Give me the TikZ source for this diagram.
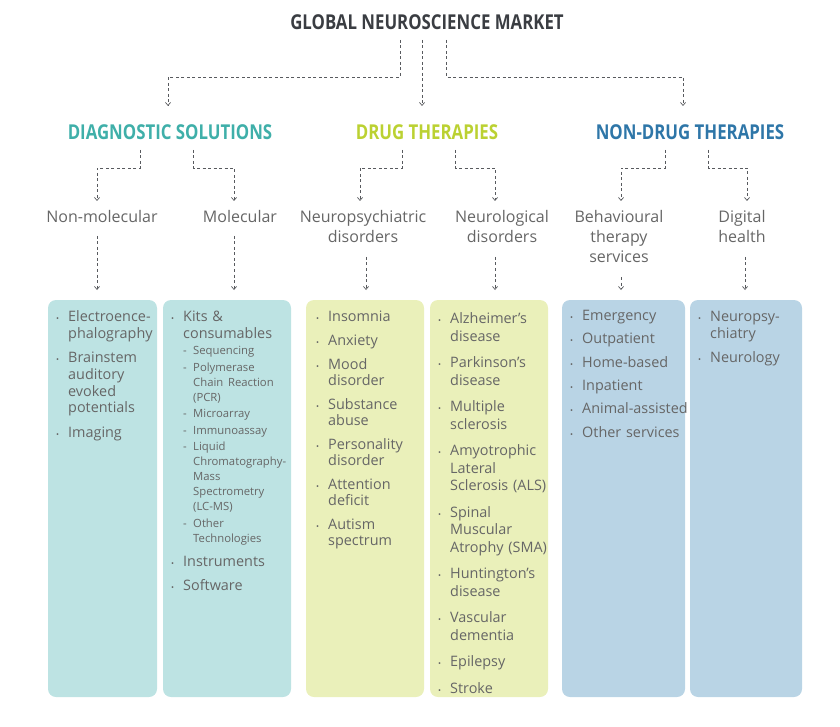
\documentclass[tikz,border=0pt]{standalone}
\usepackage{fontspec}
\setmainfont{Open Sans}
\usetikzlibrary{arrows.meta}
\definecolor{txt}{HTML}{666666}
\definecolor{ttl}{HTML}{3A3D42}
\definecolor{cA}{HTML}{3FAFA9}
\definecolor{cB}{HTML}{BBD132}
\definecolor{cC}{HTML}{2E76A8}
\definecolor{bA}{HTML}{BDE3E3}
\definecolor{bB}{HTML}{EAF0BA}
\definecolor{bC}{HTML}{B9D4E5}
\newlength\bgap \setlength\bgap{7.5pt}
\newcommand\bi[1]{\par\addvspace{\bgap}\hangindent=12pt\hangafter=1\noindent\hbox to12pt{{\fontsize{8}{8}\selectfont •}\hss}#1\par}
\newcommand\si[1]{{\fontsize{11.3}{15}\selectfont\par\addvspace{1.5pt}\hangindent=22pt\hangafter=1\noindent\hspace{12pt}\hbox to10pt{-\hss}#1\par}}
\newcommand\hd[2]{\textcolor{#1}{\bfseries\fontsize{20.5}{24}\selectfont\scalebox{0.82}[1]{#2}}}
\begin{document}
\begin{tikzpicture}[x=1pt,y=-1pt,
  lbl/.style={text=txt,font=\fontsize{16}{20}\selectfont,align=center,anchor=north},
  lst/.style={anchor=north west,text=txt,inner sep=0pt,font=\fontsize{14.4}{16.8}\selectfont\raggedright},
  con/.style={draw=ttl!85,dashed,dash pattern=on 3pt off 2.5pt,line width=0.7pt,-{Straight Barb[length=3pt,width=5pt]}}]
\useasboundingbox (0,0) rectangle (840,727);
\node (T) at (427,22) {\textcolor{ttl}{\bfseries\fontsize{20.5}{24}\selectfont\scalebox{0.82}[1]{GLOBAL NEUROSCIENCE MARKET}}};
\node (A) at (170,132) {\hd{cA}{DIAGNOSTIC SOLUTIONS}};
\node (B) at (427,132) {\hd{cB}{DRUG THERAPIES}};
\node (C) at (690,132) {\hd{cC}{NON-DRUG THERAPIES}};
\coordinate (ta) at (400,40); \coordinate (tb) at (422,40); \coordinate (tc) at (446,40);
\draw[con] (ta) -- (400,77) -- (168,77) -- (168,106);
\draw[con] (tb) -- (422,106);
\draw[con] (tc) -- (446,77) -- (683,77) -- (683,106);
% level 2
\node[lbl] (A1) at (102,207) {Non-molecular};
\node[lbl] (A2) at (240,207) {Molecular};
\node[lbl] (B1) at (363,207) {Neuropsychiatric\\disorders};
\node[lbl] (B2) at (502,207) {Neurological\\disorders};
\node[lbl] (C1) at (619,207) {Behavioural\\therapy\\services};
\node[lbl] (C2) at (742,207) {Digital\\health};
\draw[con] (140,150) -- (140,168) -- (97,168) -- (97,201);
\draw[con] (193,150) -- (193,168) -- (234,168) -- (234,201);
\draw[con] (402,150) -- (402,168) -- (360,168) -- (360,201);
\draw[con] (455,150) -- (455,168) -- (495,168) -- (495,201);
\draw[con] (665,150) -- (665,168) -- (621,168) -- (621,201);
\draw[con] (708,150) -- (708,168) -- (747,168) -- (747,201);
% boxes
\fill[bA,rounded corners=8pt] (48,300) rectangle (157,697);
\fill[bA,rounded corners=8pt] (163,300) rectangle (291,697);
\fill[bB,rounded corners=8pt] (306,300) rectangle (424,697);
\fill[bB,rounded corners=8pt] (430,300) rectangle (548,697);
\fill[bC,rounded corners=8pt] (562,300) rectangle (685,697);
\fill[bC,rounded corners=8pt] (690,300) rectangle (802,697);
\draw[con] (97,236) -- (97,290);
\draw[con] (234,236) -- (234,290);
\draw[con] (366,257) -- (366,290);
\draw[con] (495,257) -- (495,290);
\draw[con] (621,277) -- (621,290);
\draw[con] (745,257) -- (745,290);
% lists
\node[lst,text width=100pt] (L1) at (56,297) {\bi{Electroence-\newline phalography}\bi{Brainstem\newline auditory\newline evoked\newline potentials}\bi{Imaging}};
\node[lst,text width=125pt] (L2) at (171,297) {\bi{Kits \&\newline consumables}\si{Sequencing}\si{Polymerase\newline Chain Reaction\newline (PCR)}\si{Microarray}\si{Immunoassay}\si{Liquid\newline Chromatography-\newline Mass\newline Spectrometry\newline (LC-MS)}\si{Other\newline Technologies}\bi{Instruments}\bi{Software}};
\node[lst,text width=110pt,font=\fontsize{14.4}{16}\selectfont\raggedright\setlength\bgap{8pt}] (L3) at (316,297) {\bi{Insomnia}\bi{Anxiety}\bi{Mood\newline disorder}\bi{Substance\newline abuse}\bi{Personality\newline disorder}\bi{Attention\newline deficit}\bi{Autism\newline spectrum}};
\node[lst,text width=115pt,font=\fontsize{14.4}{17.5}\selectfont\raggedright\setlength\bgap{9pt}] (L4) at (438,297) {\bi{Alzheimer’s\newline disease}\bi{Parkinson’s\newline disease}\bi{Multiple\newline sclerosis}\bi{Amyotrophic\newline Lateral\newline Sclerosis (ALS)}\bi{Spinal\newline Muscular\newline Atrophy (SMA)}\bi{Huntington’s\newline disease}\bi{Vascular\newline dementia}\bi{Epilepsy}\bi{Stroke}};
\node[lst,text width=120pt,font=\fontsize{14.4}{16.8}\selectfont\raggedright\setlength\bgap{6.5pt}] (L5) at (570,297) {\bi{Emergency}\bi{Outpatient}\bi{Home-based}\bi{Inpatient}\bi{Animal-assisted}\bi{Other services}};
\node[lst,text width=105pt] (L6) at (698,297) {\bi{Neuropsy-\newline chiatry}\bi{Neurology}};
\end{tikzpicture}
\end{document}
